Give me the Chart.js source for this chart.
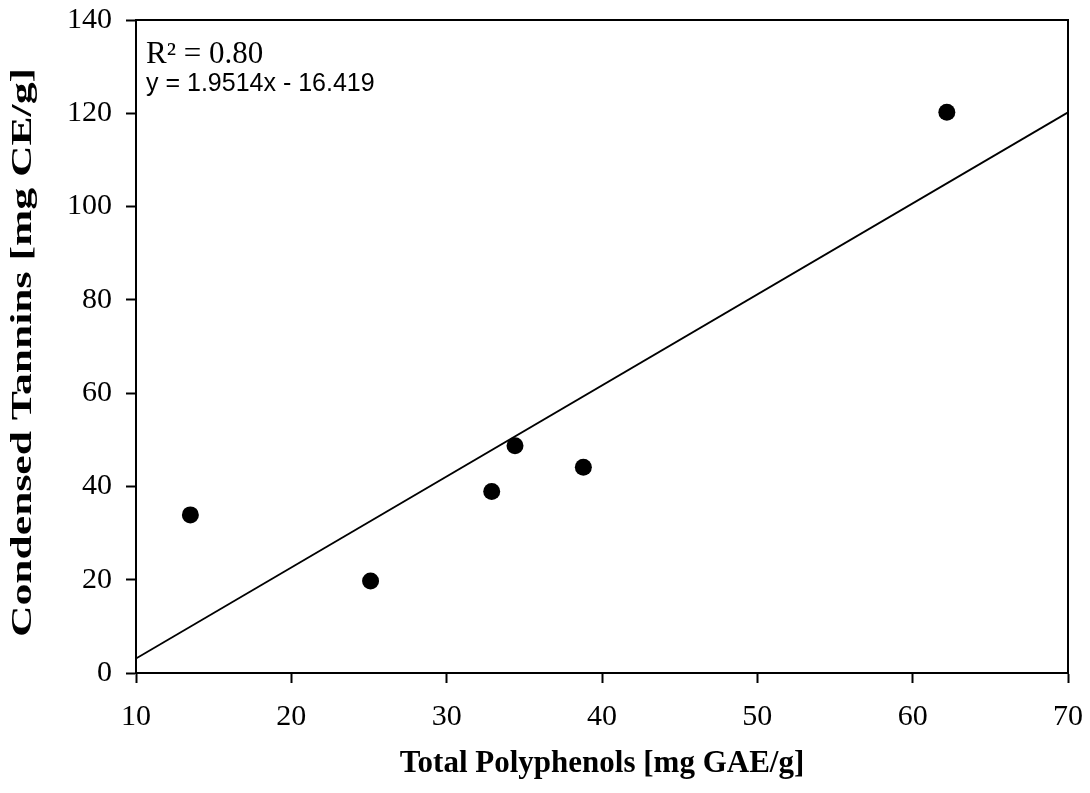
<!DOCTYPE html>
<html>
<head>
<meta charset="utf-8">
<script src="https://cdn.jsdelivr.net/npm/chart.js@4.4.1/dist/chart.umd.min.js"></script>
<style>
    html, body { margin: 0; padding: 0; background: #fff; }
    #wrap { width: 1090px; height: 793px; }
</style>
</head>
<body>
<div id="wrap"><canvas id="tanninChart"></canvas></div>
<script>
// ===========================
// Data
// ===========================

const polyphenols = [13.5, 25.1, 32.9, 34.4, 38.8, 62.2];   // mg GAE/g
const tannins = [33.9, 19.7, 38.9, 48.7, 44.1, 120.2];       // mg CE/g

// regression line end points (x = 10 and x = 70)
const trendX = [10, 70];
const trendY = [3.1, 120.2];

const xTicks = [10, 20, 30, 40, 50, 60, 70];
const yTicks = [0, 20, 40, 60, 80, 100, 120, 140];

const fitLabels = ['R\u00B2 = 0.80', 'y = 1.9514x - 16.419'];
const xTitle = 'Total Polyphenols [mg GAE/g]';
const yTitle = 'Condensed Tannins [mg CE/g]';

const SERIF = '"Liberation Serif", "Times New Roman", serif';
const SANS = '"Liberation Sans", Arial, sans-serif';

// ===========================
// Frame, equation and y title
// ===========================

const framePlugin = {
    id: 'frame',
    afterDraw(chart) {
        const { ctx, chartArea: a } = chart;
        ctx.save();
        ctx.strokeStyle = '#000';
        ctx.lineWidth = 2;
        ctx.strokeRect(a.left, a.top, a.right - a.left, a.bottom - a.top);

        // equation text
        ctx.fillStyle = '#000';
        ctx.textAlign = 'left';
        ctx.textBaseline = 'alphabetic';
        ctx.font = '31px ' + SERIF;
        ctx.fillText(fitLabels[0], a.left + 10, a.top + 43);
        ctx.font = '25px ' + SANS;
        ctx.fillText(fitLabels[1], a.left + 10, a.top + 71);

        // y axis title (stretched like the original)
        ctx.font = 'bold 29px ' + SERIF;
        const w = ctx.measureText(yTitle).width;
        const stretch = 569 / w;
        ctx.translate(24, (a.top + a.bottom) / 2 + 6);
        ctx.rotate(-Math.PI / 2);
        ctx.scale(stretch, 1);
        ctx.textAlign = 'center';
        ctx.textBaseline = 'middle';
        ctx.fillText(yTitle, 0, 0);
        ctx.restore();
    }
};

// drop the extra room Chart.js keeps for the edge tick labels
function noEdgePadding(scale) {
    scale.paddingTop = 0;
    scale.paddingBottom = 0;
    scale.paddingLeft = 0;
    scale.paddingRight = 0;
}

// ===========================
// Chart
// ===========================

const points = polyphenols.map((x, i) => ({ x: x, y: tannins[i] }));
const trend = trendX.map((x, i) => ({ x: x, y: trendY[i] }));

new Chart(document.getElementById('tanninChart'), {
    type: 'scatter',
    data: {
        datasets: [{
            label: 'Samples',
            data: points,
            backgroundColor: '#000',
            borderWidth: 0,
            pointRadius: 8.5,
            pointHoverRadius: 8.5
        }, {
            label: 'Linear fit',
            type: 'line',
            data: trend,
            borderColor: '#000',
            borderWidth: 1.8,
            pointRadius: 0,
            fill: false,
            tension: 0
        }]
    },
    options: {
        responsive: true,
        maintainAspectRatio: false,
        animation: false,
        layout: {
            padding: { top: 20, right: 22, left: 0, bottom: 0 }
        },
        plugins: {
            legend: { display: false },
            tooltip: { enabled: false }
        },
        scales: {
            x: {
                type: 'linear',
                min: xTicks[0],
                max: xTicks[xTicks.length - 1],
                afterBuildTicks(scale) {
                    scale.ticks = xTicks.map(v => ({ value: v }));
                },
                afterFit(scale) {
                    scale.height = 120;
                    noEdgePadding(scale);
                },
                grid: {
                    drawOnChartArea: false,
                    drawTicks: true,
                    tickLength: 10,
                    tickWidth: 2,
                    tickColor: '#000'
                },
                border: { display: true, color: '#000', width: 2 },
                ticks: {
                    color: '#000',
                    padding: 16,
                    maxRotation: 0,
                    font: { family: SERIF, size: 30 }
                },
                title: {
                    display: true,
                    text: xTitle,
                    color: '#000',
                    padding: { top: 0, bottom: 10 },
                    font: { family: SERIF, size: 31, weight: 'bold' }
                }
            },
            y: {
                type: 'linear',
                min: yTicks[0],
                max: yTicks[yTicks.length - 1],
                afterBuildTicks(scale) {
                    scale.ticks = yTicks.map(v => ({ value: v }));
                },
                afterFit(scale) {
                    scale.width = 136;
                    noEdgePadding(scale);
                },
                grid: {
                    drawOnChartArea: false,
                    drawTicks: true,
                    tickLength: 10,
                    tickWidth: 2,
                    tickColor: '#000'
                },
                border: { display: true, color: '#000', width: 2 },
                ticks: {
                    color: '#000',
                    padding: 14,
                    font: { family: SERIF, size: 30 }
                }
            }
        }
    },
    plugins: [framePlugin]
});
</script>
</body>
</html>
